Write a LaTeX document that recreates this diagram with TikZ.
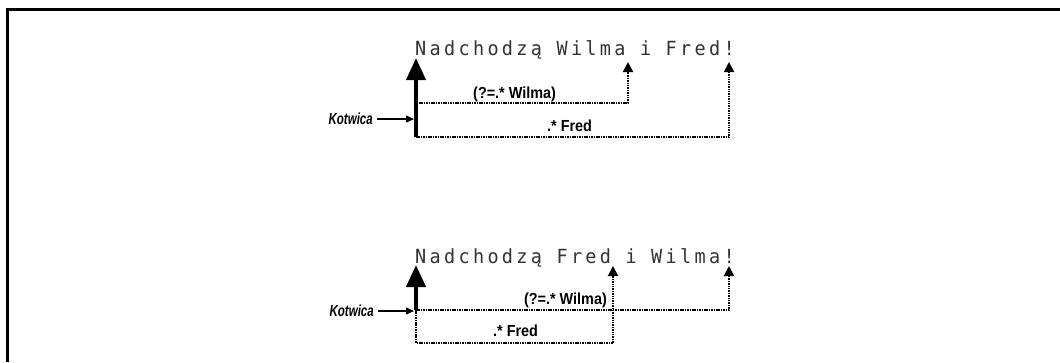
\documentclass[tikz,border=0pt]{standalone}
\usepackage{fontspec}
\usetikzlibrary{arrows.meta}

\newfontfamily\sentfont[LetterSpace=17,FakeStretch=0.95]{DejaVu Sans Mono}
\newfontfamily\regexfont[FakeStretch=0.9]{Liberation Sans}
\newfontfamily\kotfont[FakeStretch=0.72]{Liberation Sans}

\tikzset{
    sentence/.style={anchor=base west, inner sep=0pt, text=black!80,
        font=\sentfont\fontsize{19.5}{21}\selectfont},
    regex/.style={inner sep=0pt, font=\regexfont\bfseries\fontsize{16}{18}\selectfont},
    kotwica/.style={inner sep=0pt, anchor=east, font=\kotfont\bfseries\itshape\fontsize{16}{18}\selectfont},
    anchorarrow/.style={line width=4pt, -{Triangle[width=19pt,length=22pt]}},
    matchline/.style={line width=2pt, dash pattern=on 1.5pt off 0.9pt,
        -{Triangle[width=10pt,length=10pt]}},
    kotarrow/.style={line width=1.2pt, -{Triangle[width=7pt,length=8pt]}}
}

\begin{document}
\begin{tikzpicture}[x=1pt,y=-1pt]
    \useasboundingbox (0,0) rectangle (1060,362);
    \draw[line width=3pt] (7,362) -- (7,9) -- (1060,9);

    % first sentence: Wilma before Fred
    \node[sentence] (sent1) at (415,55) {Nadchodzą Wilma i Fred!};
    \coordinate (base1) at (416,137);
    \coordinate (tip1) at (416,58);
    \coordinate (wstart1) at (419,103);
    \coordinate (wilma1) at (628,62);
    \coordinate (fred1) at (729,62);
    \draw[matchline] (wstart1) -| (wilma1);
    \draw[matchline] (base1) -| (fred1);
    \draw[anchorarrow] (base1) -- (tip1);
    \node[regex, anchor=base west] (look1) at (473,98) {(?=.* Wilma)};
    \node[regex, anchor=base west] (star1) at (547,131) {.* Fred};
    \node[kotwica] (kot1) at (373,119) {Kotwica};
    \coordinate (k1) at (414,119);
    \draw[kotarrow] ([xshift=4pt]kot1.east) -- (k1);

    % second sentence: Fred before Wilma
    \node[sentence] (sent2) at (415,263) {Nadchodzą Fred i Wilma!};
    \coordinate (base2) at (416,310);
    \coordinate (tip2) at (416,265);
    \coordinate (low2) at (416,343);
    \coordinate (wilma2) at (729,266);
    \coordinate (fred2) at (613,266);
    \draw[matchline] (base2) -- (low2) -| (fred2);
    \draw[matchline] (base2) -| (wilma2);
    \draw[anchorarrow] (base2) -- (tip2);
    \node[regex, anchor=base east] (look2) at (607,304) {(?=.* Wilma)};
    \node[regex, anchor=base west] (star2) at (493,336) {.* Fred};
    \node[kotwica] (kot2) at (374,311) {Kotwica};
    \coordinate (k2) at (414,311);
    \draw[kotarrow] ([xshift=4pt]kot2.east) -- (k2);
\end{tikzpicture}
\end{document}
